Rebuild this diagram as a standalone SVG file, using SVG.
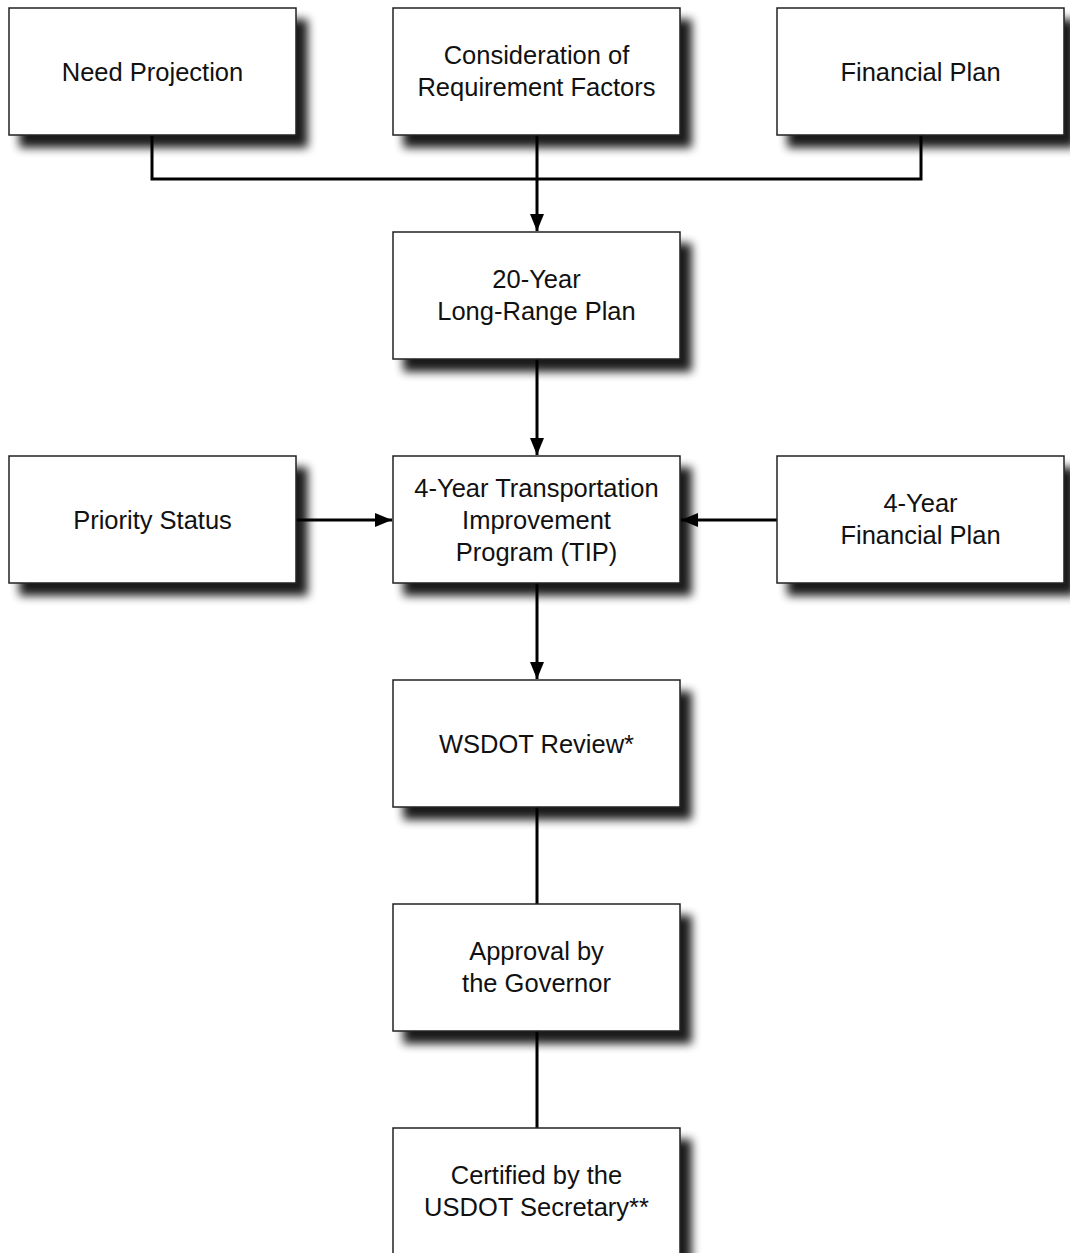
<svg xmlns="http://www.w3.org/2000/svg" width="1070" height="1253" viewBox="0 0 1070 1253">
<defs>
<filter id="sh" x="-10%" y="-15%" width="135%" height="150%">
<feGaussianBlur in="SourceAlpha" stdDeviation="5"/>
<feOffset dx="11" dy="12" result="b"/>
<feComponentTransfer><feFuncA type="linear" slope="0.9"/></feComponentTransfer>
<feMerge><feMergeNode/><feMergeNode in="SourceGraphic"/></feMerge>
</filter>
<marker id="ah" markerWidth="18" markerHeight="15" refX="17" refY="7" orient="auto" markerUnits="userSpaceOnUse">
<path d="M0,0 L17,7 L0,14 Z" fill="#000"/>
</marker>
<style>
.box{fill:#fff;stroke:#222;stroke-width:1.5;filter:url(#sh)}
.t{font-family:"Liberation Sans",Arial,sans-serif;font-size:25.5px;fill:#111;text-anchor:middle}
.c{fill:none;stroke:#000;stroke-width:3}
</style>
</defs>
<rect width="1070" height="1253" fill="#fff"/>
<g id="connectors">
<path class="c" d="M152,135 V179 H921 V135"/>
<path class="c" d="M537,135 V231" marker-end="url(#ah)"/>
<path class="c" d="M537,359 V455" marker-end="url(#ah)"/>
<path class="c" d="M296,520 H392" marker-end="url(#ah)"/>
<path class="c" d="M777,520 H681" marker-end="url(#ah)"/>
<path class="c" d="M537,583 V679" marker-end="url(#ah)"/>
<path class="c" d="M537,807 V904"/>
<path class="c" d="M537,1031 V1128"/>
</g>
<g id="need-projection"><rect class="box" x="9" y="8" width="287" height="127"/><text class="t" x="152.5" y="81">Need Projection</text></g>
<g id="requirement-factors"><rect class="box" x="393" y="8" width="287" height="127"/><text class="t" x="536.5" y="64">Consideration of</text><text class="t" x="536.5" y="96">Requirement Factors</text></g>
<g id="financial-plan"><rect class="box" x="777" y="8" width="287" height="127"/><text class="t" x="920.5" y="81">Financial Plan</text></g>
<g id="long-range-plan"><rect class="box" x="393" y="232" width="287" height="127"/><text class="t" x="536.5" y="288">20-Year</text><text class="t" x="536.5" y="320">Long-Range Plan</text></g>
<g id="priority-status"><rect class="box" x="9" y="456" width="287" height="127"/><text class="t" x="152.5" y="529">Priority Status</text></g>
<g id="tip"><rect class="box" x="393" y="456" width="287" height="127"/><text class="t" x="536.5" y="497">4-Year Transportation</text><text class="t" x="536.5" y="529">Improvement</text><text class="t" x="536.5" y="561">Program (TIP)</text></g>
<g id="four-year-financial-plan"><rect class="box" x="777" y="456" width="287" height="127"/><text class="t" x="920.5" y="512">4-Year</text><text class="t" x="920.5" y="544">Financial Plan</text></g>
<g id="wsdot-review"><rect class="box" x="393" y="680" width="287" height="127"/><text class="t" x="536.5" y="753">WSDOT Review*</text></g>
<g id="governor-approval"><rect class="box" x="393" y="904" width="287" height="127"/><text class="t" x="536.5" y="960">Approval by</text><text class="t" x="536.5" y="992">the Governor</text></g>
<g id="usdot-certification"><rect class="box" x="393" y="1128" width="287" height="127"/><text class="t" x="536.5" y="1184">Certified by the</text><text class="t" x="536.5" y="1216">USDOT Secretary**</text></g>
</svg>
